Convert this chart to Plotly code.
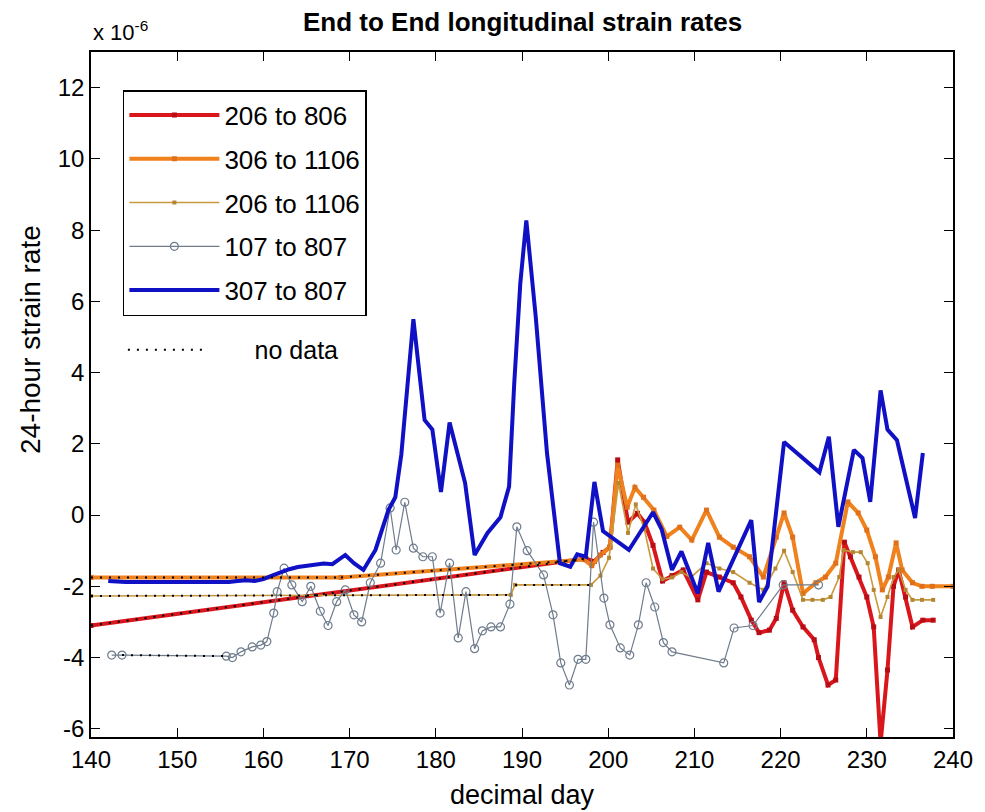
import plotly.graph_objects as go

# ---------------- data: decimal day vs 24-hour strain rate (x 1e-6) ----------------
day_206_806 = [140.0, 197.4, 198.4, 199.4, 200.2, 201.1, 202.3, 203.4, 204.2, 205.2, 206.3,
               207.4, 208.7, 210.4, 211.4, 212.9, 214.5, 215.4, 216.6, 217.5, 218.7, 219.5,
               220.4, 221.4, 222.6, 223.9, 224.4, 225.5, 226.4, 227.4, 228.1, 229.1, 230.0,
               230.8, 231.6, 232.4, 233.1, 233.7, 234.5, 235.3, 236.5, 237.7]
rate_206_806 = [-3.10, -1.22, -1.30, -1.05, -0.90, 1.55, -0.20, 0.05, -0.20, -0.85, -1.85,
                -1.70, -1.54, -2.38, -1.60, -1.74, -1.90, -2.30, -2.95, -3.30, -3.23, -2.90,
                -1.90, -2.67, -3.14, -3.50, -4.00, -4.77, -4.63, -0.76, -1.17, -1.74, -2.30,
                -3.14, -6.40, -4.35, -2.00, -1.54, -2.30, -3.14, -2.95, -2.95]
gaps_206_806 = [(0, 1)]

day_306_1106 = [140.0, 169.0, 197.2, 198.1, 199.1, 200.2, 201.1, 202.2, 203.1, 204.1, 205.3,
                206.8, 208.3, 209.7, 211.4, 212.9, 214.5, 216.4, 218.0, 219.5, 220.4, 221.4,
                222.6, 224.1, 225.2, 226.4, 227.8, 229.0, 230.0, 231.0, 231.8, 232.5, 233.4,
                234.1, 235.3, 236.4, 237.6, 240.0]
rate_306_1106 = [-1.75, -1.75, -1.25, -1.42, -1.12, -0.90, 1.40, 0.22, 0.78, 0.50, 0.14,
                 -0.60, -0.34, -0.70, 0.14, -0.62, -0.90, -1.17, -1.74, -0.62, 0.06, -0.62,
                 -2.20, -1.90, -1.74, -1.35, 0.37, 0.06, -0.42, -1.17, -2.10, -1.74, -0.78,
                 -1.54, -1.90, -2.00, -2.00, -2.00]
gaps_306_1106 = [(0, 1), (1, 2)]

day_206_1106 = [140.0, 188.7, 189.2, 198.0, 199.1, 200.1, 201.2, 202.3, 203.2, 204.2, 205.2,
                206.3, 207.4, 208.5, 209.6, 211.4, 212.9, 214.5, 216.4, 218.0, 219.4, 220.4,
                221.4, 222.6, 223.7, 224.9, 225.8, 226.8, 227.3, 228.4, 229.3, 230.1, 230.8,
                231.6, 232.4, 233.1, 233.7, 234.5, 235.3, 236.4, 237.7]
rate_206_1106 = [-2.27, -2.24, -1.96, -1.96, -1.70, -1.20, 0.90, -0.50, 0.30, -0.40, -1.50,
                 -1.80, -1.75, -1.60, -1.75, -1.35, -1.50, -1.60, -1.90, -2.10, -1.50, -1.00,
                 -1.60, -2.38, -2.38, -2.38, -2.30, -1.74, -0.98, -1.04, -1.04, -1.35, -2.10,
                 -2.86, -2.30, -1.74, -1.54, -2.10, -2.38, -2.38, -2.38]
gaps_206_1106 = [(0, 1), (2, 3)]

day_107_807 = [142.4, 143.6, 155.7, 156.4, 157.4, 158.7, 159.7, 160.4, 161.2, 161.6, 162.4,
               163.3, 164.5, 165.5, 166.6, 167.5, 168.5, 169.5, 170.5, 171.4, 172.4, 173.6,
               174.7, 175.4, 176.4, 177.4, 178.5, 179.6, 180.5, 181.6, 182.6, 183.5, 184.5,
               185.4, 186.4, 187.5, 188.6, 189.4, 190.6, 192.5, 193.6, 194.5, 195.5, 196.5,
               197.4, 198.3, 199.5, 200.2, 201.4, 202.5, 203.5, 204.4, 205.4, 206.4, 207.4,
               213.4, 214.6, 216.8, 220.3, 224.4]
rate_107_807 = [-3.93, -3.93, -3.96, -4.00, -3.84, -3.70, -3.65, -3.55, -2.75, -2.15, -1.49,
                -1.96, -2.43, -2.00, -2.70, -3.10, -2.43, -2.10, -2.80, -3.00, -1.90, -1.35,
                0.20, -0.98, 0.36, -0.93, -1.17, -1.17, -2.75, -1.35, -3.45, -2.15, -3.75,
                -3.25, -3.14, -3.14, -2.50, -0.33, -1.00, -1.68, -2.80, -4.15, -4.77, -4.05,
                -4.05, -0.20, -2.33, -3.08, -3.73, -3.93, -3.08, -1.90, -2.58, -3.58, -3.84,
                -4.15, -3.17, -3.10, -1.96, -1.96]
gaps_107_807 = [(1, 2)]

day_307_807 = [142, 143, 144, 145, 146, 147, 148, 149, 150, 151, 152, 153, 154, 155, 156, 157,
               158, 159, 160, 161, 162, 163, 164, 165, 166, 167, 168, 169.5, 170.5, 171.6,
               173.0, 173.7, 174.5, 175.3, 176.0, 177.4, 178.7, 179.6, 180.6, 181.6, 182.6,
               183.4, 184.5, 186.0, 187.5, 188.5, 189.1, 189.8, 190.5, 191.6, 192.9, 194.4,
               195.6, 196.4, 197.4, 198.4, 199.4, 200.6, 202.4, 205.2, 206.2, 207.4, 208.5,
               210.4, 211.6, 212.8, 216.6, 217.5, 218.5, 220.4, 224.5, 225.6, 226.7, 228.5,
               229.5, 230.4, 231.6, 232.4, 233.5, 235.6, 236.5]
rate_307_807 = [-1.85, -1.87, -1.88, -1.88, -1.88, -1.88, -1.90, -1.90, -1.90, -1.90, -1.90,
                -1.90, -1.90, -1.88, -1.88, -1.85, -1.83, -1.85, -1.80, -1.70, -1.60, -1.52,
                -1.46, -1.42, -1.38, -1.36, -1.38, -1.12, -1.35, -1.54, -0.98, -0.42, 0.14,
                0.50, 1.70, 5.50, 2.67, 2.40, 0.65, 2.60, 1.70, 0.90, -1.12, -0.50, -0.06,
                0.80, 3.70, 6.50, 8.27, 5.55, 1.74, -1.35, -1.45, -1.10, -1.17, 0.93, -0.45,
                -0.65, -0.98, 0.08, -0.40, -1.54, -1.02, -2.20, -0.78, -2.15, -0.14, -2.44,
                -2.00, 2.05, 1.20, 2.20, -0.33, 1.83, 1.60, 0.37, 3.50, 2.40, 2.10, -0.08, 1.74]

y_tick_values = [-6, -4, -2, 0, 2, 4, 6, 8, 10, 12]
y_tick_labels = ["-6", "-4", "-2", "0", "2", "4", "6", "8", "10", "12"]
x_tick_values = [140, 150, 160, 170, 180, 190, 200, 210, 220, 230, 240]

FONT = "Liberation Sans, Arial, sans-serif"

fig = go.Figure()

series = [
    ("206 to 806", day_206_806, rate_206_806, gaps_206_806,
     dict(color="#d8161c", width=4), dict(symbol="square", size=5, color="#b80d14")),
    ("306 to 1106", day_306_1106, rate_306_1106, gaps_306_1106,
     dict(color="#f0821e", width=4), dict(symbol="square", size=5, color="#e0701a")),
    ("206 to 1106", day_206_1106, rate_206_1106, gaps_206_1106,
     dict(color="#c89a3c", width=1.6), dict(symbol="square", size=4, color="#b48634")),
    ("107 to 807", day_107_807, rate_107_807, gaps_107_807,
     dict(color="#6f7c8c", width=1.2),
     dict(symbol="circle-open", size=8, color="#6f7c8c", line=dict(width=1.2))),
    ("307 to 807", day_307_807, rate_307_807, [],
     dict(color="#1010c4", width=4), None),
]

for i, (name, xs, ys, _, line, marker) in enumerate(series):
    fig.add_trace(go.Scatter(
        x=xs, y=ys, name=name,
        mode="lines+markers" if marker else "lines",
        line=line, marker=marker,
        legendgroup=f"g{i}", legend="legend",
    ))

# dotted overlay across the intervals that have no measurements
gx, gy = [], []
for _, xs, ys, gaps, _, _ in series:
    for a, b in gaps:
        gx += [xs[a], xs[b], None]
        gy += [ys[a], ys[b], None]

fig.add_trace(go.Scatter(
    x=gx, y=gy, mode="lines", name="\u00a0\u00a0\u00a0\u00a0\u00a0\u00a0no data",
    line=dict(color="black", width=2, dash="2px,7px"),
    legend="legend2", connectgaps=False,
))

axis_common = dict(
    showline=True, linecolor="black", linewidth=1.5, mirror="ticks",
    ticks="inside", ticklen=9, tickwidth=1.3, tickcolor="black",
    showgrid=False, zeroline=False,
    tickfont=dict(family=FONT, size=24, color="black"),
)

fig.update_layout(
    width=985, height=812,
    margin=dict(l=91, r=27, t=52, b=75),
    paper_bgcolor="white", plot_bgcolor="white",
    font=dict(family=FONT, size=24, color="black"),
    xaxis=dict(range=[140, 240], tickvals=x_tick_values, **axis_common),
    yaxis=dict(range=[-6.23, 13.0], tickvals=y_tick_values, ticktext=y_tick_labels,
               **axis_common),
    legend=dict(
        x=0.037, y=0.9445, xanchor="left", yanchor="top",
        bordercolor="black", borderwidth=1.5, bgcolor="white",
        font=dict(family=FONT, size=26, color="black"),
        tracegroupgap=7, itemwidth=90,
    ),
    legend2=dict(
        x=0.037, y=0.565, xanchor="left", yanchor="middle",
        borderwidth=0, bgcolor="rgba(0,0,0,0)",
        font=dict(family=FONT, size=25, color="black"),
        itemwidth=80,
    ),
    annotations=[
        dict(text="<b>End to End longitudinal strain rates</b>", xref="paper", yref="paper",
             x=0.5, y=1.0438, xanchor="center", yanchor="middle", showarrow=False,
             font=dict(family=FONT, size=26, color="black")),
        dict(text="x 10<sup>-6</sup>", xref="paper", yref="paper",
             x=0.0, y=1.03, xanchor="left", yanchor="middle", showarrow=False,
             font=dict(family=FONT, size=22, color="black")),
        dict(text="decimal day", xref="paper", yref="paper",
             x=0.5, y=-0.085, xanchor="center", yanchor="middle", showarrow=False,
             font=dict(family=FONT, size=27, color="black")),
        dict(text="24-hour strain rate", xref="paper", yref="paper", textangle=-90,
             x=-0.0704, y=0.58, xanchor="center", yanchor="middle", showarrow=False,
             font=dict(family=FONT, size=28, color="black")),
    ],
)

fig.write_html("out.html")
